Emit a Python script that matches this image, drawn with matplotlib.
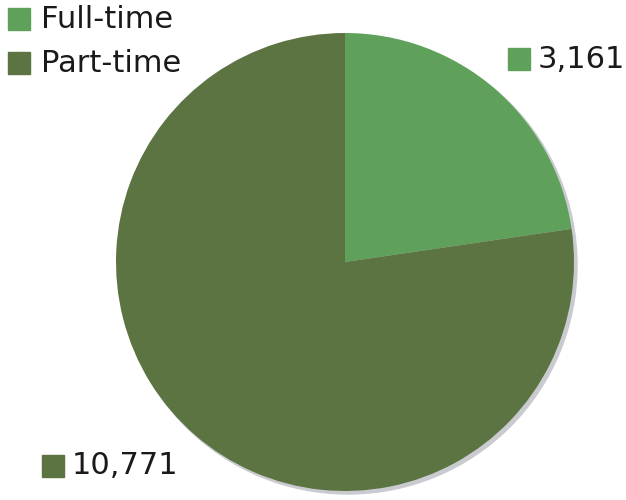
import matplotlib.pyplot as plt
from matplotlib.patches import Rectangle, Circle

# data
labels = ['Full-time', 'Part-time']
values = [3161, 10771]
colors = ['#5fa15b', '#5b7442']

W, H = 626, 500
fig = plt.figure(figsize=(W / 100, H / 100), dpi=100)
ax = fig.add_axes([0, 0, 1, 1])
ax.set_xlim(0, W)
ax.set_ylim(0, H)
ax.set_aspect('equal')
ax.axis('off')

cx, cy, r = 345, H - 262, 229

# skugga
ax.add_patch(Circle((cx + 3, cy - 3), r, color='#c9cbd1', zorder=1))

ax.pie(values, colors=colors, startangle=90, counterclock=False,
       center=(cx, cy), radius=r, frame=True,
       wedgeprops={'linewidth': 0, 'zorder': 2})
ax.set_xlim(0, W)
ax.set_ylim(0, H)
ax.axis('off')

fs = 22
# legend
for i, lab in enumerate(labels):
    y = H - 19 - i * 44
    ax.add_patch(Rectangle((8, y - 11), 22, 22, color=colors[i], zorder=3))
    ax.text(41, y, lab, fontsize=fs, va='center', ha='left', color='#1a1a1a')

# värde-etiketter
pos = [(508, H - 59), (42, H - 466)]
for i, v in enumerate(values):
    x, y = pos[i]
    ax.add_patch(Rectangle((x, y - 11), 22, 22, color=colors[i], zorder=3))
    ax.text(x + 30, y, f'{v:,}', fontsize=fs, va='center', ha='left', color='#1a1a1a')

fig.savefig('out.png', dpi=100)
